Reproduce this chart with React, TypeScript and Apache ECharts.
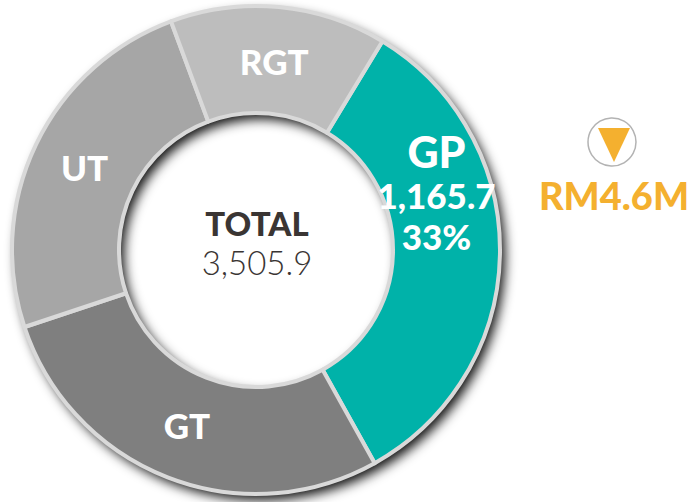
import React, { useEffect, useRef } from "react";
import * as echarts from "echarts";

const categories = ["GP", "GT", "UT", "RGT"];
const values = [1165.7, 980.7, 857, 502.5];
const colors = ["#00b2a9", "#7f7f7f", "#a6a6a6", "#bdbdbd"];
const centerTitle = "TOTAL";
const centerValue = "3,505.9";
const gpValue = "1,165.7";
const gpShare = "33%";
const deltaLabel = "RM4.6M";

const FONT = "Lato, sans-serif";
const CENTER = [256, 250];
const RADIUS = [137, 244];
const labelNudges = [
  { dx: -13, dy: -61 },
  { dx: 1, dy: -5 },
  { dx: 3, dy: 1 },
  { dx: 0, dy: 4 },
];

export default function App() {
  const ref = useRef<HTMLDivElement>(null);
  useEffect(() => {
    const chart = echarts.init(ref.current!, null, { renderer: "svg" });
    chart.setOption({
      animation: false,
      backgroundColor: "#fff",
      series: [
        {
          type: "pie",
          center: CENTER,
          radius: RADIUS,
          silent: true,
          label: { show: false },
          labelLine: { show: false },
          itemStyle: {
            color: "#d9d9d9",
            shadowBlur: 12,
            shadowOffsetX: 5,
            shadowOffsetY: 6,
            shadowColor: "rgba(0,0,0,0.95)",
          },
          data: [{ name: "", value: values.reduce((a, b) => a + b, 0) }],
        },
        {
          type: "pie",
          center: CENTER,
          radius: RADIUS,
          startAngle: 58.8,
          clockwise: true,
          avoidLabelOverlap: false,
          silent: true,
          itemStyle: {
            borderColor: "#d9d9d9",
            borderWidth: 4,
          },
          label: {
            show: true,
            position: "inside",
            color: "#fff",
            fontFamily: FONT,
            fontWeight: 900,
            fontSize: 35,
            formatter: "{b}",
          },
          labelLine: { show: false },
          labelLayout: (p: any) => labelNudges[p.dataIndex],
          data: categories.map((name, i) => ({
            name,
            value: values[i],
            itemStyle: { color: colors[i] },
            label:
              i === 0
                ? {
                    formatter: `{a|${name}}\n{b|${gpValue}}\n{b|${gpShare}}`,
                    rich: {
                      a: { fontFamily: FONT, fontWeight: 900, fontSize: 43, color: "#fff", lineHeight: 46 },
                      b: { fontFamily: FONT, fontWeight: 900, fontSize: 35, color: "#fff", lineHeight: 41 },
                    },
                  }
                : undefined,
          })),
        },
      ],
      graphic: [
        {
          type: "text",
          x: 257,
          y: 223,
          style: { text: centerTitle, font: `900 33px ${FONT}`, fill: "#3a3533", align: "center", verticalAlign: "middle" },
        },
        {
          type: "text",
          x: 257,
          y: 262,
          style: { text: centerValue, font: `300 33px ${FONT}`, fill: "#3a3533", align: "center", verticalAlign: "middle" },
        },
        {
          type: "circle",
          shape: { cx: 612, cy: 142, r: 24 },
          style: { fill: "#fff", stroke: "#b3b3b3", lineWidth: 1.5 },
        },
        {
          type: "polygon",
          shape: { points: [[598, 128], [630, 128], [614, 162]] },
          style: { fill: "#f4b02f" },
        },
        {
          type: "text",
          x: 614,
          y: 195,
          style: { text: deltaLabel, font: `900 38px ${FONT}`, fill: "#f4b02f", align: "center", verticalAlign: "middle" },
        },
      ],
    });
    return () => chart.dispose();
  }, []);
  return <div ref={ref} style={{ position: "fixed", left: 0, top: 0, width: 688, height: 502 }} />;
}
